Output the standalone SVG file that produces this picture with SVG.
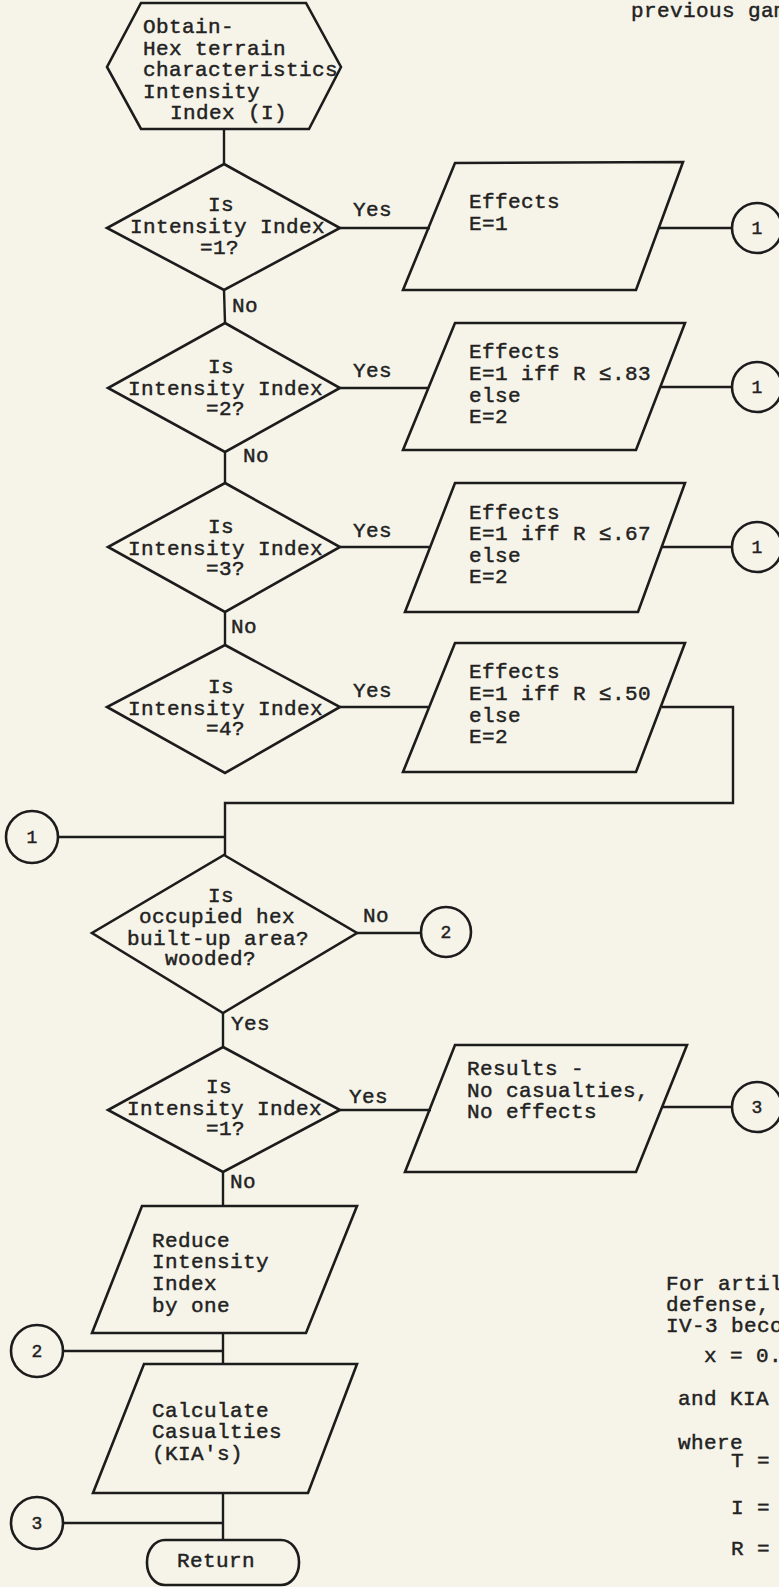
<svg xmlns="http://www.w3.org/2000/svg" width="779" height="1587" viewBox="0 0 779 1587">
<style>
.bg{fill:#f6f4e9}
.sh{fill:none;stroke:#1c1c1c;stroke-width:2.6;stroke-linejoin:miter}
.ln{fill:none;stroke:#1c1c1c;stroke-width:2.4}
text{font-family:"Liberation Mono","Courier New",monospace;font-size:21px;letter-spacing:0.4px;fill:#222;stroke:#222;stroke-width:0.45}
.c{text-anchor:middle;font-size:18px;letter-spacing:0}
.m{text-anchor:middle}
</style>
<rect class="bg" x="0" y="0" width="779" height="1587"/>

<g id="connectors">
<line class="ln" x1="224" y1="129" x2="224" y2="164"/>
<line class="ln" x1="224" y1="290" x2="225" y2="323"/>
<line class="ln" x1="225" y1="452" x2="225" y2="483"/>
<line class="ln" x1="225" y1="612" x2="225" y2="645"/>
<line class="ln" x1="340" y1="228" x2="430" y2="228"/>
<line class="ln" x1="340" y1="388" x2="428" y2="388"/>
<line class="ln" x1="340" y1="547" x2="429" y2="547"/>
<line class="ln" x1="340" y1="707" x2="428" y2="707"/>
<line class="ln" x1="659" y1="228" x2="732" y2="228"/>
<line class="ln" x1="660" y1="387" x2="732" y2="387"/>
<line class="ln" x1="661" y1="547" x2="732" y2="547"/>
<polyline class="ln" points="662,707 733,707 733,803 225,803 225,855"/>
<line class="ln" x1="58" y1="837" x2="225" y2="837"/>
<line class="ln" x1="357" y1="933" x2="421" y2="933"/>
<line class="ln" x1="223" y1="1013" x2="223" y2="1047"/>
<line class="ln" x1="340" y1="1110" x2="431" y2="1110"/>
<line class="ln" x1="662" y1="1107" x2="732" y2="1107"/>
<line class="ln" x1="223" y1="1172" x2="223" y2="1206"/>
<line class="ln" x1="223" y1="1333" x2="223" y2="1364"/>
<line class="ln" x1="63" y1="1351" x2="223" y2="1351"/>
<line class="ln" x1="223" y1="1493" x2="223" y2="1540"/>
<line class="ln" x1="63" y1="1523" x2="223" y2="1523"/>
<text x="232" y="312">No</text>
<text x="243" y="462">No</text>
<text x="231" y="633">No</text>
<text x="353" y="216">Yes</text>
<text x="353" y="377">Yes</text>
<text x="353" y="537">Yes</text>
<text x="353" y="697">Yes</text>
<text x="363" y="922">No</text>
<text x="231" y="1030">Yes</text>
<text x="349" y="1103">Yes</text>
<text x="230" y="1188">No</text>
</g>

<g id="start">
<polygon class="sh" points="141,3 306,3 341,67 309,129 141,129 107,67"/>
<text x="143" y="33">Obtain-</text>
<text x="143" y="55">Hex terrain</text>
<text x="143" y="76">characteristics</text>
<text x="143" y="98">Intensity</text>
<text x="170" y="119">Index (I)</text>
</g>

<g id="d1">
<polygon class="sh" points="224,164 340,228 224,290 107,228"/>
<text x="208" y="211">Is</text>
<text x="130" y="233">Intensity Index</text>
<text x="200" y="254">=1?</text>
</g>
<g id="p1">
<polygon class="sh" points="455,163 683,162 636,290 403,290"/>
<text x="469" y="208">Effects</text>
<text x="469" y="230">E=1</text>
</g>
<g id="c1a"><circle class="sh" cx="757" cy="228" r="25"/><text class="c" x="757" y="234">1</text></g>

<g id="d2">
<polygon class="sh" points="225,323 340,388 225,452 108,388"/>
<text x="208" y="373">Is</text>
<text x="128" y="395">Intensity Index</text>
<text x="206" y="415">=2?</text>
</g>
<g id="p2">
<polygon class="sh" points="455,323 685,323 636,450 403,450"/>
<text x="469" y="358">Effects</text>
<text x="469" y="380">E=1 iff R ≤.83</text>
<text x="469" y="402">else</text>
<text x="469" y="423">E=2</text>
</g>
<g id="c1b"><circle class="sh" cx="757" cy="387" r="25"/><text class="c" x="757" y="393">1</text></g>

<g id="d3">
<polygon class="sh" points="225,483 340,547 225,612 108,547"/>
<text x="208" y="533">Is</text>
<text x="128" y="555">Intensity Index</text>
<text x="206" y="575">=3?</text>
</g>
<g id="p3">
<polygon class="sh" points="455,483 685,483 638,612 405,612"/>
<text x="469" y="519">Effects</text>
<text x="469" y="540">E=1 iff R ≤.67</text>
<text x="469" y="562">else</text>
<text x="469" y="583">E=2</text>
</g>
<g id="c1c"><circle class="sh" cx="757" cy="547" r="25"/><text class="c" x="757" y="553">1</text></g>

<g id="d4">
<polygon class="sh" points="225,645 340,707 225,773 107,707"/>
<text x="208" y="693">Is</text>
<text x="128" y="715">Intensity Index</text>
<text x="206" y="735">=4?</text>
</g>
<g id="p4">
<polygon class="sh" points="455,643 685,643 636,772 403,772"/>
<text x="469" y="678">Effects</text>
<text x="469" y="700">E=1 iff R ≤.50</text>
<text x="469" y="722">else</text>
<text x="469" y="743">E=2</text>
</g>

<g id="c1d"><circle class="sh" cx="32" cy="837" r="26"/><text class="c" x="32" y="843">1</text></g>

<g id="d5">
<polygon class="sh" points="224,855 357,933 223,1013 92,933"/>
<text x="208" y="902">Is</text>
<text x="139" y="923">occupied hex</text>
<text x="127" y="945">built-up area?</text>
<text x="165" y="965">wooded?</text>
</g>
<g id="c2a"><circle class="sh" cx="446" cy="932" r="25"/><text class="c" x="446" y="938">2</text></g>

<g id="d6">
<polygon class="sh" points="223,1047 340,1110 223,1172 108,1110"/>
<text x="206" y="1093">Is</text>
<text x="127" y="1115">Intensity Index</text>
<text x="206" y="1135">=1?</text>
</g>
<g id="p5">
<polygon class="sh" points="455,1045 687,1045 636,1172 405,1172"/>
<text x="467" y="1075">Results -</text>
<text x="467" y="1097">No casualties,</text>
<text x="467" y="1118">No effects</text>
</g>
<g id="c3a"><circle class="sh" cx="757" cy="1107" r="25"/><text class="c" x="757" y="1113">3</text></g>

<g id="p6">
<polygon class="sh" points="142,1206 357,1206 306,1333 92,1333"/>
<text x="152" y="1247">Reduce</text>
<text x="152" y="1268">Intensity</text>
<text x="152" y="1290">Index</text>
<text x="152" y="1312">by one</text>
</g>
<g id="c2b"><circle class="sh" cx="37" cy="1351" r="26"/><text class="c" x="37" y="1357">2</text></g>

<g id="p7">
<polygon class="sh" points="144,1364 357,1364 308,1493 93,1493"/>
<text x="152" y="1417">Calculate</text>
<text x="152" y="1438">Casualties</text>
<text x="152" y="1460">(KIA's)</text>
</g>
<g id="c3b"><circle class="sh" cx="37" cy="1523" r="26"/><text class="c" x="37" y="1529">3</text></g>

<g id="end">
<rect class="sh" x="147" y="1540" width="152" height="45" rx="18" ry="22"/>
<text class="m" x="216" y="1567">Return</text>
</g>

<g id="notes">
<text x="631" y="17">previous gam</text>
<text x="666" y="1290">For artil</text>
<text x="666" y="1311">defense,</text>
<text x="666" y="1332">IV-3 beco</text>
<text x="704" y="1362">x = 0.</text>
<text x="678" y="1405">and KIA</text>
<text x="678" y="1449">where</text>
<text x="731" y="1467">T =</text>
<text x="731" y="1514">I =</text>
<text x="731" y="1555">R =</text>
</g>
</svg>
